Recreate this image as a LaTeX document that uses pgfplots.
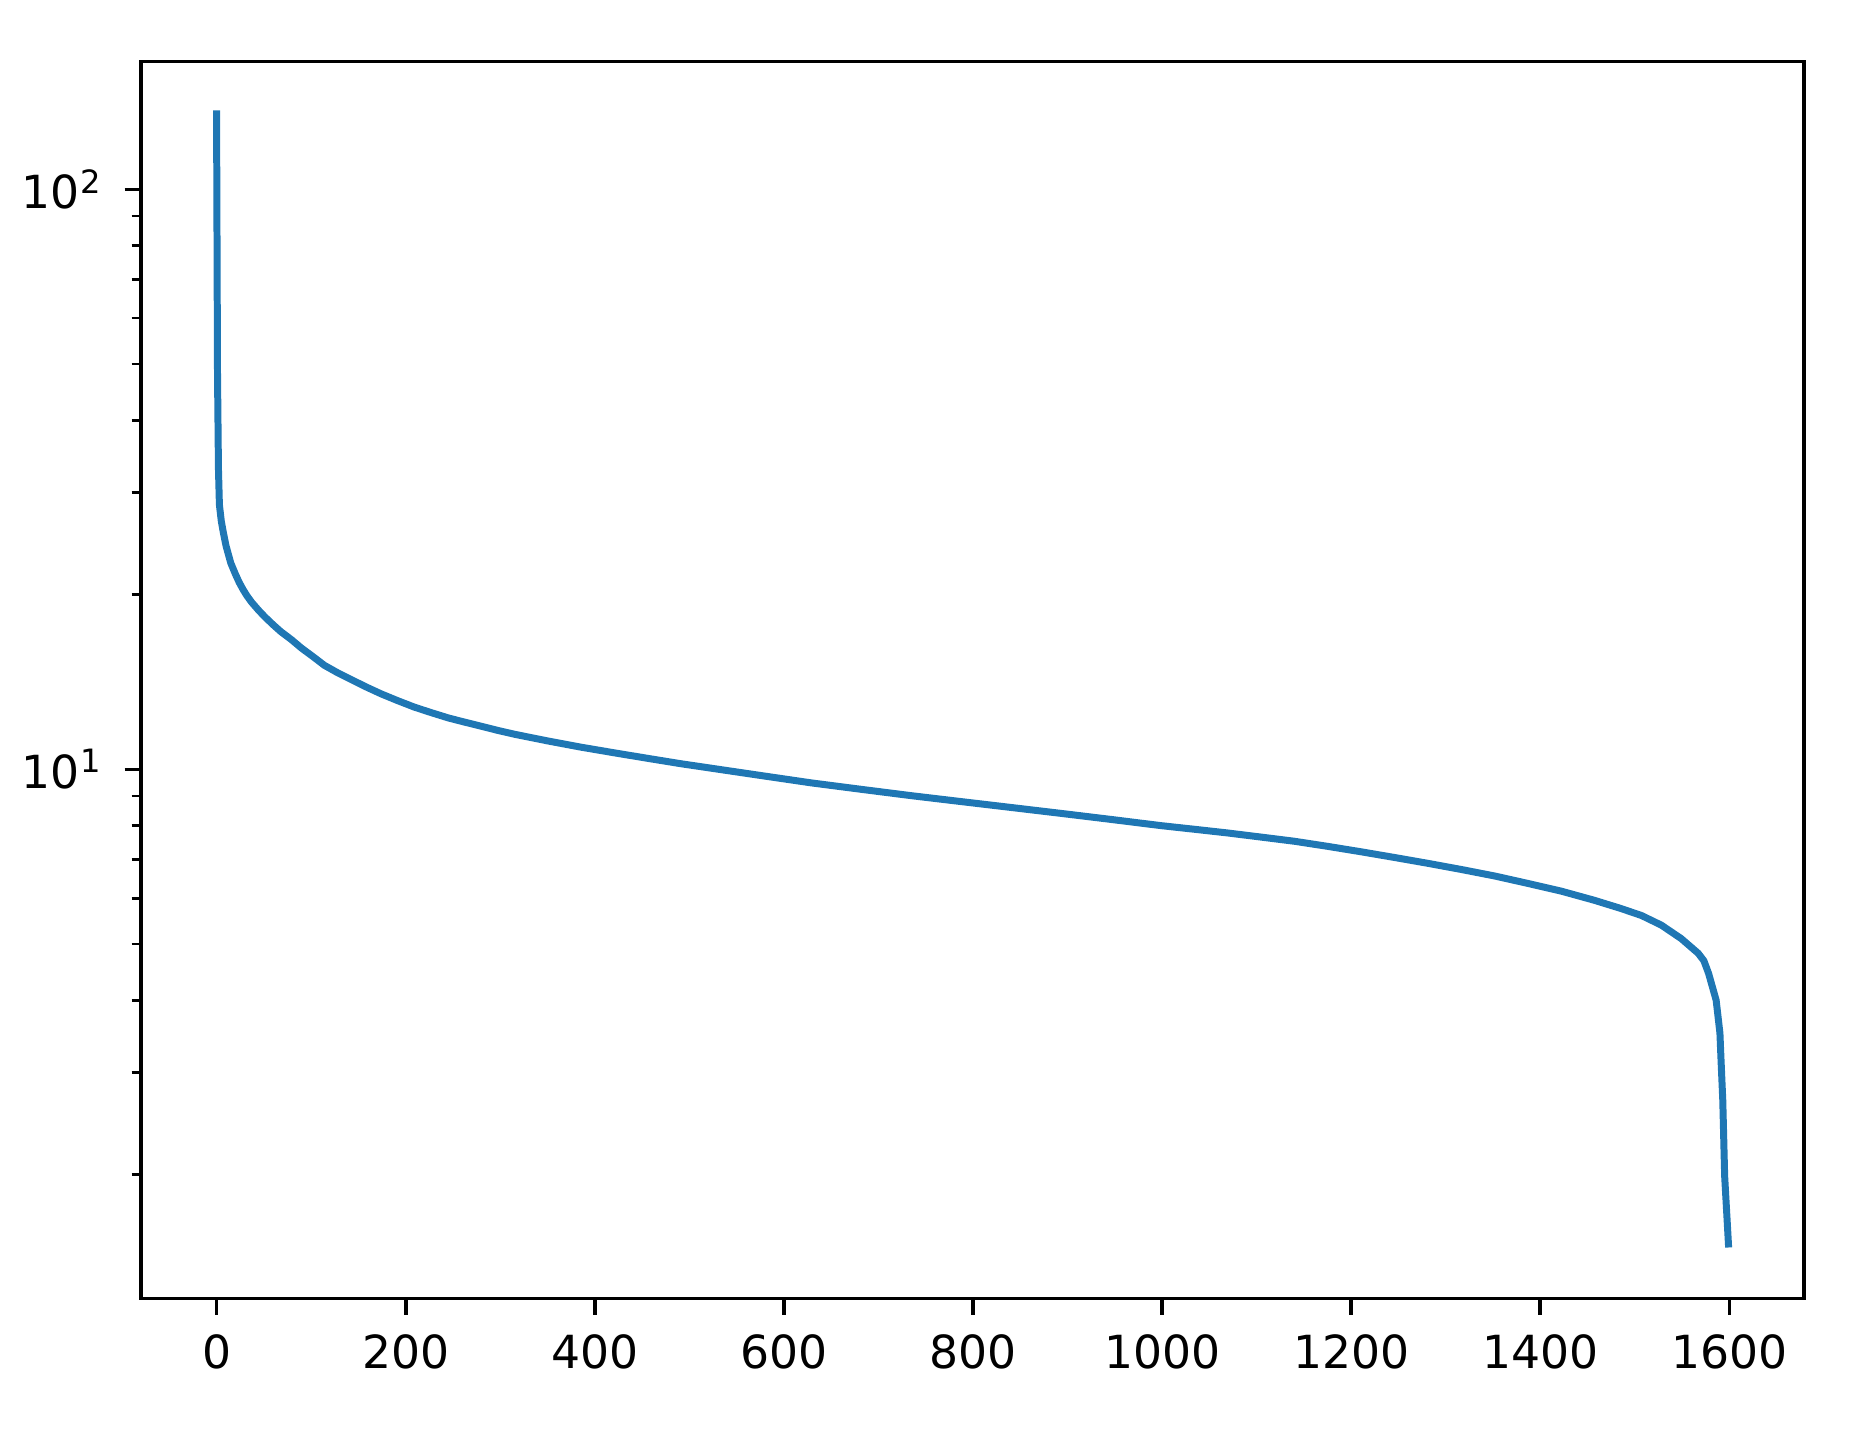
\documentclass[border=0pt]{standalone}
\usepackage{pgfplots}
\pgfplotsset{compat=1.18}
\usepackage{fontspec}
\setmainfont{DejaVu Sans}
\definecolor{mplblue}{RGB}{31,119,180}
\newcommand{\sups}[1]{\raisebox{3.4bp}{\fontsize{6.9bp}{8bp}\selectfont #1}}
\pgfplotstableread{
x v
0 135
1 48
2 33
3 28.6
5 26.8
7 25.7
10 24.3
15 22.7
20 21.7
24 21.0
28 20.43
32 19.94
37 19.43
44 18.85
51 18.33
60 17.75
68 17.28
79 16.75
90 16.18
102 15.65
114 15.12
128 14.68
142 14.3
158 13.88
174 13.5
191 13.15
209 12.81
227 12.53
245 12.27
262 12.07
280 11.87
297 11.68
315 11.5
350 11.2
386 10.92
421 10.68
456 10.45
491 10.23
523 10.05
576 9.76
629 9.48
682 9.24
735 9.01
788 8.80
840 8.60
893 8.40
946 8.20
999 8.00
1035 7.885
1070 7.77
1105 7.645
1140 7.52
1175 7.37
1211 7.21
1246 7.05
1281 6.89
1317 6.72
1352 6.55
1387 6.36
1422 6.17
1457 5.95
1485 5.76
1507 5.60
1528 5.39
1549 5.11
1567 4.82
1573 4.68
1578 4.45
1586 4.00
1590 3.51
1591 3.20
1593 2.69
1595 1.99
1599 1.52
}\curve
\begin{document}
\begin{tikzpicture}
\begin{axis}[
  name=ax,
  scale only axis,
  width=357.1bp, height=265.6bp,
  ymode=log,
  xmin=-79.95, xmax=1678.95,
  ymin=1.224, ymax=166.1,
  axis line style={line width=0.8bp, black},
  tick pos=left,
  tick align=outside,
  major tick length=3.5bp,
  minor tick length=2bp,
  major tick style={line width=0.8bp, black},
  minor tick style={line width=0.6bp, black},
  xtick={0,200,400,600,800,1000,1200,1400,1600},
  xticklabels={0,200,400,600,800,1000,1200,1400,1600},
  ytick={10,100},
  yticklabels={10\sups{1},10\sups{2}},
  minor ytick={2,3,4,5,6,7,8,9,20,30,40,50,60,70,80,90},
  xticklabel style={inner sep=0pt, anchor=north, yshift=-4.0bp, font=\fontsize{9.8bp}{12bp}\selectfont},
  yticklabel style={inner sep=0pt, anchor=east, xshift=-5.0bp, font=\fontsize{9.8bp}{12bp}\selectfont},
  clip=true,
]
\addplot[color=mplblue, line width=1.5bp, line join=round, line cap=rect] table[x=x, y=v] {\curve};
\end{axis}
\path ([xshift=-30.27bp,yshift=-28.23bp]ax.south west) rectangle ([xshift=11.16bp,yshift=13.23bp]ax.north east);
\end{tikzpicture}
\end{document}
